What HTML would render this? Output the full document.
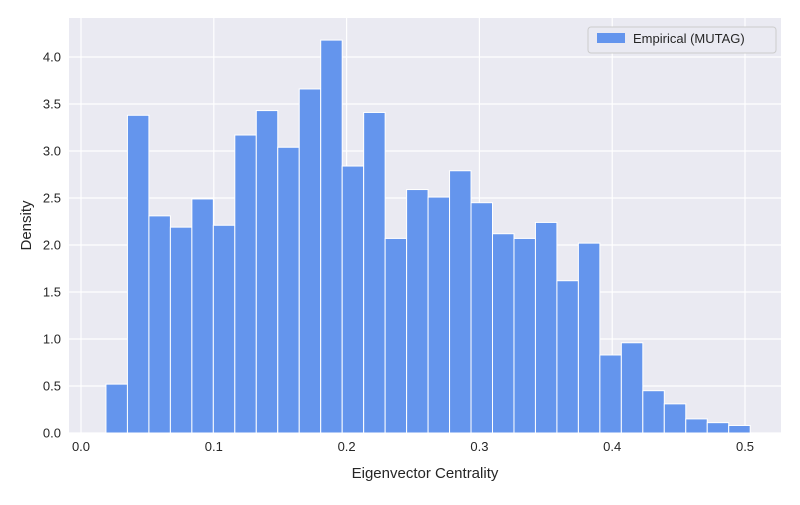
<!DOCTYPE html>
<html><head><meta charset="utf-8"><style>
body{margin:0;background:#fff;font-family:"Liberation Sans",sans-serif}
svg text{font-family:"Liberation Sans",sans-serif;fill:#262626}
</style></head><body>
<svg id="chart" width="800" height="500"></svg>
<script>
const binStart = 0.0188;
const binWidth = 0.01617;
const densities = [0.52,3.38,2.31,2.19,2.49,2.21,3.17,3.43,3.04,3.66,4.18,2.84,3.41,2.07,2.59,2.51,2.79,2.45,2.12,2.07,2.24,1.62,2.02,0.83,0.96,0.45,0.31,0.15,0.11,0.08];
const xTicks = [0,0.1,0.2,0.3,0.4,0.5];
const xTickLabels = ["0.0","0.1","0.2","0.3","0.4","0.5"];
const yTicks = [0,0.5,1,1.5,2,2.5,3,3.5,4];
const yTickLabels = ["0.0","0.5","1.0","1.5","2.0","2.5","3.0","3.5","4.0"];

const L=69,R=781,T=18,B=433;
const x0=-0.00904, x1=0.5271, y0=0, y1=4.415;
const sx=v=>L+(v-x0)/(x1-x0)*(R-L);
const sy=v=>B-(v-y0)/(y1-y0)*(B-T);
const svg=document.getElementById('chart');
const NS='http://www.w3.org/2000/svg';
function mk(tag,attrs,parent){const e=document.createElementNS(NS,tag);for(const k in attrs)e.setAttribute(k,attrs[k]);(parent||svg).appendChild(e);return e;}

const bg=mk('rect',{x:L,y:T,width:R-L,height:B-T,fill:'#eaeaf2'});


xTicks.forEach((t,i)=>{
  const g=mk('line',{x1:sx(t),x2:sx(t),y1:T,y2:B,stroke:'#fff','stroke-width':1.2});
  
  
  const tx=mk('text',{x:sx(t),y:B+18,'text-anchor':'middle','font-size':13});
  tx.textContent=xTickLabels[i];
  
  
});
yTicks.forEach((t,i)=>{
  const g=mk('line',{x1:L,x2:R,y1:sy(t),y2:sy(t),stroke:'#fff','stroke-width':1.2});
  
  
  const tx=mk('text',{x:L-8,y:sy(t)+4.5,'text-anchor':'end','font-size':13});
  tx.textContent=yTickLabels[i];
  
  
});
densities.forEach((d,i)=>{
  const a=binStart+i*binWidth;
  const r=mk('rect',{x:sx(a),y:sy(d),width:sx(a+binWidth)-sx(a),height:sy(0)-sy(d),fill:'#6495ed',stroke:'#fff','stroke-width':1});
  
  
});
const xt=mk('text',{x:(L+R)/2,y:478,'text-anchor':'middle','font-size':15});
xt.textContent='Eigenvector Centrality';


const yt=mk('text',{x:0,y:0,'text-anchor':'middle','font-size':15,transform:`translate(31,${(T+B)/2}) rotate(-90)`});
yt.textContent='Density';


const lg=mk('g',{});


mk('rect',{x:588,y:27,width:188,height:26,rx:3,fill:'#eaeaf2',stroke:'#ccc','stroke-width':1},lg);
mk('rect',{x:597,y:33,width:28,height:10,fill:'#6495ed'},lg);
const lt=mk('text',{x:633,y:43,'font-size':13},lg);
lt.textContent='Empirical (MUTAG)';


</script>
</body></html>
